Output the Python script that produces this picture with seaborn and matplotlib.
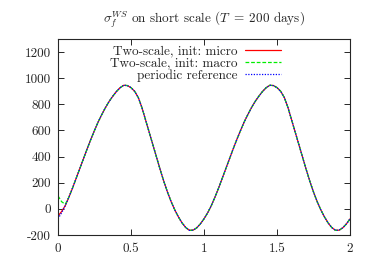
import numpy as np
import matplotlib
matplotlib.use('Agg')
import matplotlib.pyplot as plt
import seaborn as sns

# time in periods (step 0.025)
t = np.round(np.arange(0, 2.0001, 0.025), 3)

# periodic reference
periodic = [-76, -30, 25, 90, 160, 235, 310, 385, 460, 532,
            600, 665, 722, 775, 822, 862, 898, 927, 946, 944,
            928, 900, 852, 775, 680, 585, 490, 395, 300, 210,
            128, 55, -8, -62, -108, -143, -164, -163, -145, -115,
            -76, -30, 25, 90, 160, 235, 310, 385, 460, 532,
            600, 665, 722, 775, 822, 862, 898, 927, 946, 944,
            928, 900, 852, 775, 680, 585, 490, 395, 300, 210,
            128, 55, -8, -62, -108, -143, -164, -163, -145, -115,
            -76]

# start of the two-scale runs (they join the reference afterwards)
micro_start = [-55, -20]
macro_start = [100, 55, 35]
micro = micro_start + periodic[len(micro_start):]
macro = macro_start + periodic[len(macro_start):]

xticks = [0, 0.5, 1, 1.5, 2]
xlabels = ['0', '0.5', '1', '1.5', '2']
yticks = [-200, 0, 200, 400, 600, 800, 1000, 1200]

sns.set_style('ticks')
plt.rcParams['font.family'] = 'serif'
plt.rcParams['font.serif'] = ['cmr10', 'DejaVu Serif']
plt.rcParams['mathtext.fontset'] = 'cm'
plt.rcParams['axes.formatter.use_mathtext'] = True
plt.rcParams['axes.unicode_minus'] = False

fig = plt.figure(figsize=(3.74, 2.62), dpi=100)
ax = fig.add_axes([0.155, 0.103, 0.781, 0.748])

sns.lineplot(x=t, y=micro, color='#ff0000', lw=0.9, ax=ax,
             label='Two-scale, init: micro')
sns.lineplot(x=t, y=macro, color='#00ee00', lw=0.9, ax=ax,
             linestyle=(0, (3, 1.5)), label='Two-scale, init: macro')
sns.lineplot(x=t, y=periodic, color='#0000ff', lw=0.9, ax=ax,
             linestyle=(0, (1, 1.2)), label='periodic reference')

ax.set_xlim(0, 2)
ax.set_ylim(-200, 1300)
ax.set_xticks(xticks)
ax.set_xticklabels(xlabels)
ax.set_yticks(yticks)
ax.set_yticklabels([str(v) for v in yticks])
ax.tick_params(direction='in', top=True, right=True, length=4, width=0.7,
               labelsize=9.5, pad=5)
ax.tick_params(axis='x', pad=6)
for s in ax.spines.values():
    s.set_linewidth(0.8)
    s.set_visible(True)

ax.set_title(r'$\sigma_f^{WS}$ on short scale ($T\;=\;200$ days)',
             fontsize=9.5, pad=12)

ax.legend(loc='upper right', bbox_to_anchor=(0.763, 0.97), frameon=False,
          markerfirst=False, handlelength=2.7, handletextpad=0.6,
          labelspacing=0.0, borderpad=0, borderaxespad=0, fontsize=9.5)

fig.savefig('out.png', dpi=100)
